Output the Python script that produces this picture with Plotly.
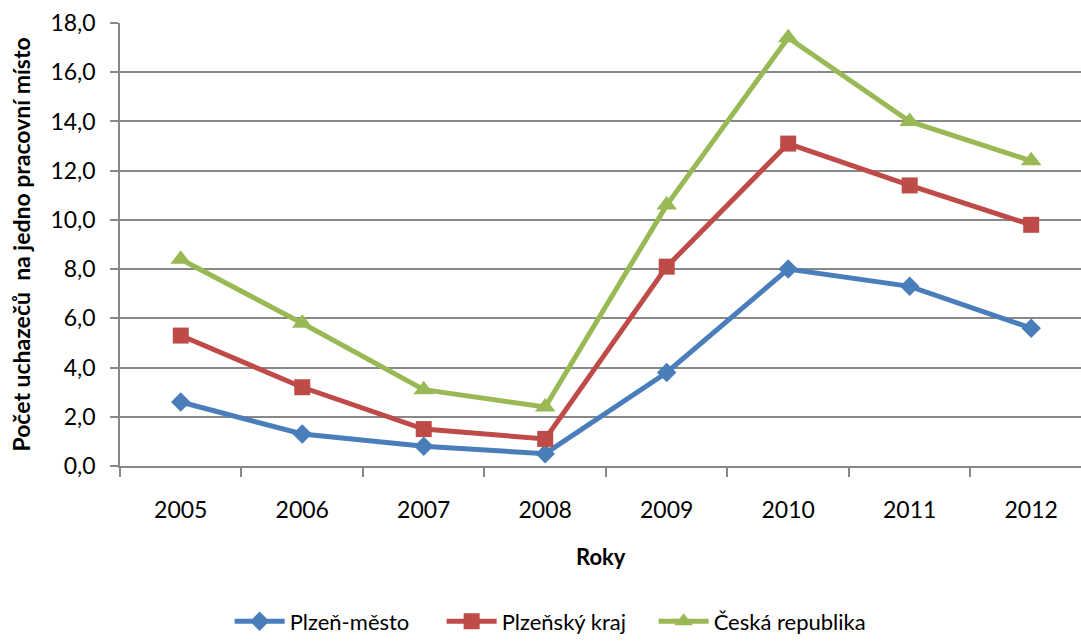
import plotly.graph_objects as go

years = ["2005", "2006", "2007", "2008", "2009", "2010", "2011", "2012"]
plzen_mesto = [2.6, 1.3, 0.8, 0.5, 3.8, 8.0, 7.3, 5.6]
plzensky_kraj = [5.3, 3.2, 1.5, 1.1, 8.1, 13.1, 11.4, 9.8]
ceska_republika = [8.4, 5.8, 3.1, 2.4, 10.6, 17.4, 14.0, 12.4]
y_ticks = [0, 2, 4, 6, 8, 10, 12, 14, 16, 18]

FONT = "Lato"
fig = go.Figure()
series = [
    ("Plzeň-město", plzen_mesto, "#4a7ebb", "diamond", 15),
    ("Plzeňský kraj", plzensky_kraj, "#be4b48", "square", 16),
    ("Česká republika", ceska_republika, "#98b954", "triangle-up", 18),
]
for name, vals, color, sym, size in series:
    fig.add_trace(go.Scatter(
        x=years, y=vals, name=name, mode="lines+markers",
        line=dict(color=color, width=5),
        marker=dict(symbol=sym, size=size, color=color),
    ))

fig.update_layout(
    width=1081, height=643,
    margin=dict(l=120, r=0, t=23, b=170),
    paper_bgcolor="white", plot_bgcolor="white",
    separators=", ",
    font=dict(family=FONT, size=22, color="#000000"),
    showlegend=True,
    legend=dict(orientation="h", x=0.445, xanchor="center", y=-0.351, yanchor="middle",
                font=dict(size=22), itemwidth=50, tracegroupgap=0,
                entrywidth=147, entrywidthmode="pixels"),
    annotations=[
        dict(text="<b>Počet uchazečů  na jedno pracovní místo</b>", textangle=-90,
             xref="paper", yref="paper", x=-0.104, y=0.5, xanchor="center", yanchor="middle",
             showarrow=False, font=dict(size=23)),
        dict(text="<b>Roky</b>", xref="paper", yref="paper", x=0.5, y=-0.205,
             xanchor="center", yanchor="middle", showarrow=False, font=dict(size=22)),
    ],
)
fig.update_xaxes(
    type="category", range=[-0.5, 7.41], automargin=False,
    showgrid=False, showline=True, linecolor="#888888", linewidth=1.5,
    ticks="outside", tickson="boundaries", ticklen=9, tickcolor="#888888", tickwidth=1.5,
    tickfont=dict(size=23), ticklabelstandoff=23,
)
fig.update_yaxes(
    range=[0, 18], tickvals=y_ticks, tickformat=".1f", automargin=False,
    showgrid=True, gridcolor="#888888", gridwidth=1.5,
    showline=True, linecolor="#888888", linewidth=1.5,
    ticks="outside", ticklen=8, tickcolor="#888888", tickwidth=1.5,
    tickfont=dict(size=23), zeroline=False, ticklabelstandoff=10,
)
fig.write_html("out.html", config={"displayModeBar": False},
               post_script="document.body.style.margin='0';")
